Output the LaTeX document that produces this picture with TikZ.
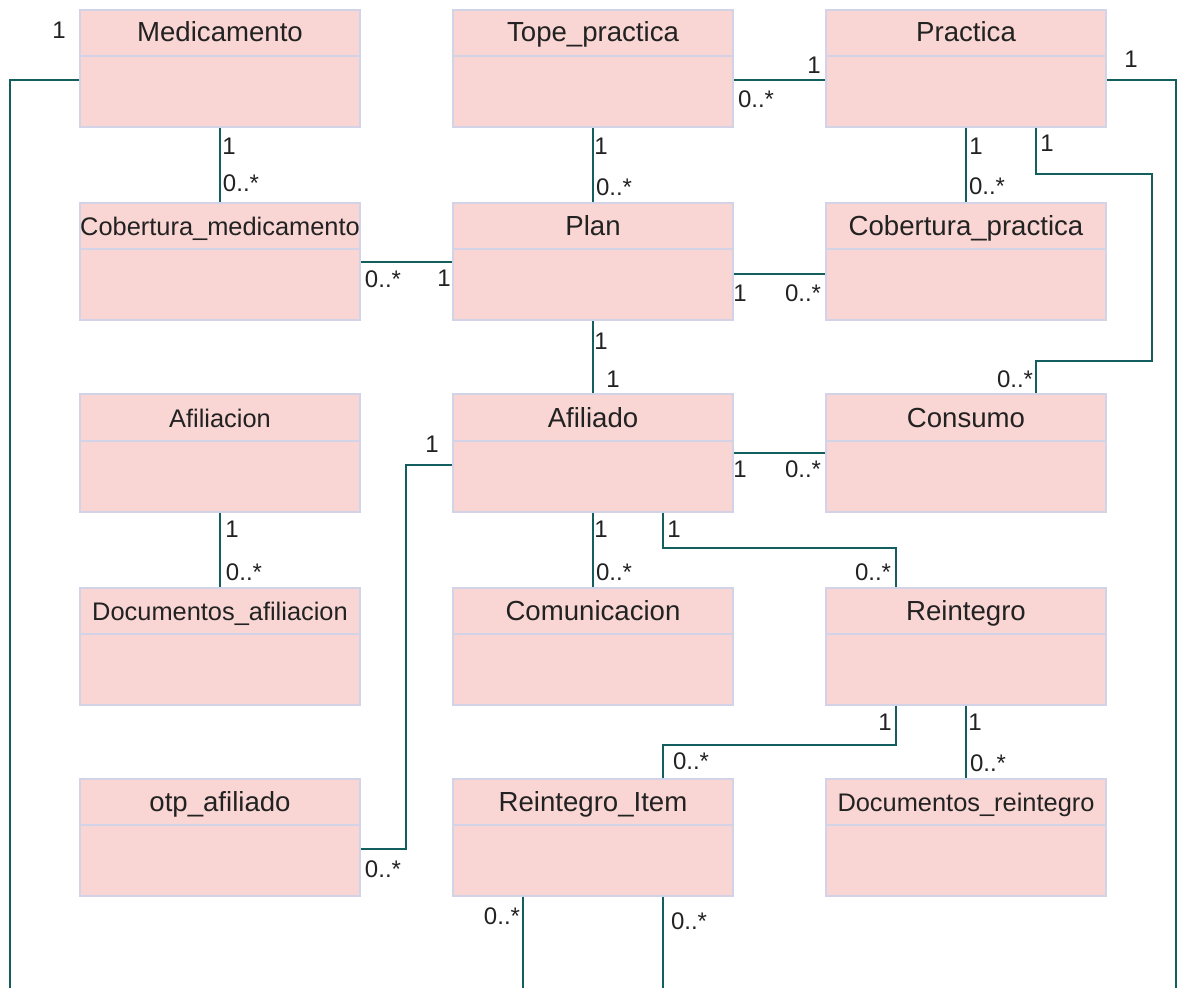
\documentclass[tikz,border=0pt]{standalone}
\usepackage{fontspec}
\setmainfont{Liberation Sans}
\usepackage{xcolor}
\usepackage{tikz}
\definecolor{rosa}{HTML}{F9D6D3}
\definecolor{borde}{HTML}{D2D3E6}
\definecolor{verde}{HTML}{135E5E}
\definecolor{tinta}{HTML}{222222}

\begin{document}
\begin{tikzpicture}[x=0.5pt, y=-0.5pt,
    every node/.style={text=tinta},
    clase/.style={draw=borde, fill=rosa, line width=1pt, minimum width=140pt, minimum height=58.5pt, inner sep=0pt},
    titulo/.style={font=\fontsize{13.8}{16}\selectfont, anchor=base, inner sep=0pt},
    titchico/.style={font=\fontsize{12.7}{15}\selectfont, anchor=base, inner sep=0pt},
    mult/.style={font=\fontsize{12}{14}\selectfont, inner sep=0pt},
    rel/.style={draw=verde, line width=1pt}
]
\useasboundingbox (0,0) rectangle (1181,988);
% clases
\node[clase] (med) at (220, 68.5) {};
\node[clase] (tope) at (593, 68.5) {};
\node[clase] (pra) at (966, 68.5) {};
\node[clase] (cmed) at (220, 262) {};
\node[clase] (plan) at (593, 262) {};
\node[clase] (cpra) at (966, 262) {};
\node[clase] (afc) at (220, 453) {};
\node[clase] (afi) at (593, 453) {};
\node[clase] (cons) at (966, 453) {};
\node[clase] (dafi) at (220, 646) {};
\node[clase] (com) at (593, 646) {};
\node[clase] (rei) at (966, 646) {};
\node[clase] (otp) at (220, 837) {};
\node[clase] (ritem) at (593, 837) {};
\node[clase] (drei) at (966, 837) {};
\foreach \c in {med,tope,pra,cmed,plan,cpra,afc,afi,cons,dafi,com,rei,otp,ritem,drei}
    \draw[borde, line width=1pt] ([yshift=-23.5pt]\c.north west) -- ([yshift=-23.5pt]\c.north east);
% titulos
\node[titulo] (tmed) at (220, 42) {Medicamento};
\node[titulo] (ttope) at (593, 42) {Tope\_practica};
\node[titulo] (tpra) at (966, 42) {Practica};
\node[titchico] (tcmed) at (220, 236) {Cobertura\_medicamento};
\node[titulo] (tplan) at (593, 236) {Plan};
\node[titulo] (tcpra) at (966, 236) {Cobertura\_practica};
\node[titchico] (tafc) at (220, 427) {Afiliacion};
\node[titulo] (tafi) at (593, 427) {Afiliado};
\node[titulo] (tcons) at (966, 427) {Consumo};
\node[titchico] (tdafi) at (220, 620) {Documentos\_afiliacion};
\node[titulo] (tcom) at (593, 620) {Comunicacion};
\node[titulo] (trei) at (966, 620) {Reintegro};
\node[titulo] (totp) at (220, 811) {otp\_afiliado};
\node[titulo] (tritem) at (593, 811) {Reintegro\_Item};
\node[titchico] (tdrei) at (966, 811) {Documentos\_reintegro};
% extremos libres
\coordinate (finizq) at (10, 990);
\coordinate (finder) at (1176, 990);
\coordinate (lazo1) at (1152, 174);
\coordinate (lazo2) at (1152, 361);
% relaciones
\draw[rel] ([yshift=-5.75pt]med.west) -| (finizq);
\draw[rel] (med.south) -- (cmed.north);
\draw[rel] (tope.south) -- (plan.north);
\draw[rel] ([yshift=-5.75pt]tope.east) -- ([yshift=-5.75pt]pra.west);
\draw[rel] (pra.south) -- (cpra.north);
\draw[rel] ([xshift=35pt]pra.south) |- (lazo1) -- (lazo2) -| ([xshift=35pt]cons.north);
\draw[rel] ([yshift=-5.75pt]pra.east) -| (finder);
\draw[rel] (cmed.east) -- (plan.west);
\draw[rel] ([yshift=-6pt]plan.east) -- ([yshift=-6pt]cpra.west);
\draw[rel] (plan.south) -- (afi.north);
\draw[rel] ([yshift=-5.75pt]afi.west) -- ++(-23pt,0) |- ([yshift=-6pt]otp.east);
\draw[rel] (afi.east) -- (cons.west);
\draw[rel] (afi.south) -- (com.north);
\draw[rel] ([xshift=35pt]afi.south) -- ++(0,-17.75pt) -| ([xshift=-35pt]rei.north);
\draw[rel] (afc.south) -- (dafi.north);
\draw[rel] ([xshift=-35pt]rei.south) -- ++(0,-19.5pt) -| ([xshift=35pt]ritem.north);
\draw[rel] (rei.south) -- (drei.north);
\draw[rel] ([xshift=-35pt]ritem.south) -- ++(0,-47pt);
\draw[rel] ([xshift=35pt]ritem.south) -- ++(0,-47pt);
% multiplicidades
\node[mult] (m1) at (59, 30) {1};
\node[mult] (m2) at (229, 146) {1};
\node[mult] (m3) at (241, 183) {0..*};
\node[mult] (m4) at (601, 146) {1};
\node[mult] (m5) at (614, 187) {0..*};
\node[mult] (m6) at (756, 99) {0..*};
\node[mult] (m7) at (814, 65) {1};
\node[mult] (m8) at (976, 146) {1};
\node[mult] (m9) at (987, 186) {0..*};
\node[mult] (m10) at (1047, 143) {1};
\node[mult] (m11) at (1015, 379) {0..*};
\node[mult] (m12) at (1131, 59) {1};
\node[mult] (m13) at (383, 279) {0..*};
\node[mult] (m14) at (444, 278) {1};
\node[mult] (m15) at (740, 293) {1};
\node[mult] (m16) at (803, 293) {0..*};
\node[mult] (m17) at (601, 341) {1};
\node[mult] (m18) at (613, 379) {1};
\node[mult] (m19) at (432, 444) {1};
\node[mult] (m20) at (383, 869) {0..*};
\node[mult] (m21) at (740, 469) {1};
\node[mult] (m22) at (803, 469) {0..*};
\node[mult] (m23) at (601, 529) {1};
\node[mult] (m24) at (614, 572) {0..*};
\node[mult] (m25) at (674, 529) {1};
\node[mult] (m26) at (873, 572) {0..*};
\node[mult] (m27) at (232, 529) {1};
\node[mult] (m28) at (244, 572) {0..*};
\node[mult] (m29) at (885, 722) {1};
\node[mult] (m30) at (691, 761) {0..*};
\node[mult] (m31) at (975, 722) {1};
\node[mult] (m32) at (988, 763) {0..*};
\node[mult] (m33) at (502, 916) {0..*};
\node[mult] (m34) at (689, 921) {0..*};
\end{tikzpicture}
\end{document}
